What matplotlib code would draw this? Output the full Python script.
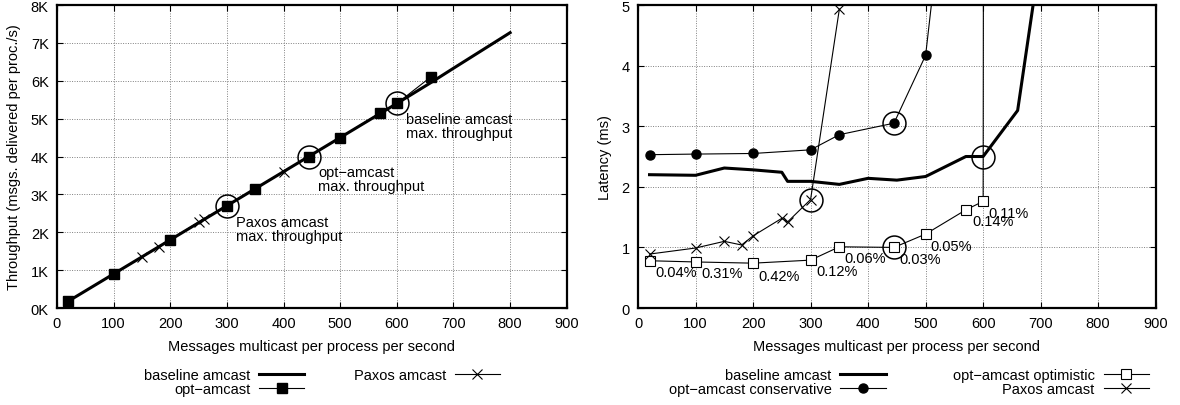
import matplotlib
matplotlib.use('Agg')
import matplotlib.pyplot as plt

plt.rcParams['font.family'] = ['Liberation Sans', 'DejaVu Sans']
plt.rcParams['font.size'] = 10.5

# ---- left panel: throughput (K msgs/s) ----
base_x = [20, 100, 150, 200, 250, 260, 300, 350, 400, 450, 500, 570, 600, 660, 700, 800]
base_thr = [0.18, 0.9, 1.35, 1.8, 2.25, 2.34, 2.7, 3.15, 3.6, 4.05, 4.5, 5.13, 5.4, 5.95, 6.33, 7.27]

opt_x = [20, 100, 200, 300, 350, 445, 500, 570, 600, 660]
opt_thr = [0.18, 0.9, 1.8, 2.7, 3.15, 4.0, 4.5, 5.15, 5.4, 6.1]

paxos_thr_x = [20, 100, 150, 180, 200, 250, 260, 300, 400]
paxos_thr = [0.18, 0.9, 1.35, 1.61, 1.8, 2.27, 2.36, 2.7, 3.6]

max_thr_x = [300, 445, 600]
max_thr_y = [2.7, 4.0, 5.4]
max_thr_text = ['Paxos amcast\nmax. throughput', 'opt\u2212amcast\nmax. throughput',
                'baseline amcast\nmax. throughput']
max_thr_text_pos = [(316, 2.08), (461, 3.4), (617, 4.81)]

# ---- right panel: latency (ms) ----
base_lat_x = [20, 100, 150, 200, 250, 260, 300, 350, 400, 450, 500, 570, 600, 660, 700]
base_lat = [2.2, 2.19, 2.31, 2.28, 2.24, 2.09, 2.09, 2.04, 2.14, 2.11, 2.17, 2.5, 2.5, 3.26, 5.85]

cons_x = [20, 100, 200, 300, 350, 445, 500, 570]
cons_lat = [2.53, 2.54, 2.55, 2.61, 2.86, 3.05, 4.17, 10.0]

optim_x = [20, 100, 200, 300, 350, 445, 500, 570, 600, 660]
optim_lat = [0.78, 0.76, 0.74, 0.79, 1.01, 1.0, 1.22, 1.62, 1.76, 500.0]

paxos_lat_x = [20, 100, 150, 180, 200, 250, 260, 300, 350]
paxos_lat = [0.89, 0.99, 1.1, 1.04, 1.19, 1.48, 1.42, 1.79, 4.93]

max_lat_x = [300, 445, 445, 600]
max_lat_y = [1.79, 3.05, 1.0, 2.5]

pct_labels = ['0.04%', '0.31%', '0.42%', '0.12%', '0.06%', '0.03%', '0.05%', '0.14%', '0.11%']
pct_pos = [(66, 0.59), (146, 0.58), (246, 0.53), (346, 0.61), (395, 0.83),
           (490, 0.81), (544, 1.03), (617, 1.44), (644, 1.57)]

fig = plt.figure(figsize=(11.8, 4.06), dpi=100)
ax1 = fig.add_axes([0.0483, 0.2389, 0.432, 0.7463])
ax2 = fig.add_axes([0.5407, 0.2389, 0.4387, 0.7463])


def style(ax):
    ax.set_xlim(0, 900)
    ax.set_xticks(range(0, 901, 100))
    ax.grid(True, color='0.5', linestyle=(0, (1, 1.5)), linewidth=0.7)
    ax.set_axisbelow(True)
    ax.tick_params(direction='in', length=4, width=0.8, top=True, right=True,
                   labelsize=10.5, pad=6)
    for s in ax.spines.values():
        s.set_linewidth(1.6)
    ax.set_xlabel('Messages multicast per process per second', labelpad=6)


# left
ax1.plot(base_x, base_thr, color='black', lw=2.2, label='baseline amcast')
ax1.plot(opt_x, opt_thr, color='black', lw=0.8, marker='s', ms=7.5,
         label='opt\u2212amcast')
ax1.plot(paxos_thr_x, paxos_thr, color='black', lw=0.8, marker='x', ms=7,
         mew=0.8, label='Paxos amcast')
ax1.plot(max_thr_x, max_thr_y, ls='none', marker='o', ms=16.5, mfc='none',
         mec='black', mew=1.1, label='_nolegend_')
for txt, (tx, ty) in zip(max_thr_text, max_thr_text_pos):
    ax1.text(tx, ty, txt, ha='left', va='center', fontsize=10.5, linespacing=1.0)
style(ax1)
ax1.set_ylim(0, 8)
ax1.set_yticks(range(0, 9))
ax1.set_yticklabels([f'{k}K' for k in range(0, 9)])
ax1.set_ylabel('Throughput (msgs. delivered per proc./s)', labelpad=7)
ax1.legend(loc='upper center', bbox_to_anchor=(322 / 1180, 1 - 362 / 406),
           bbox_transform=fig.transFigure, ncol=2, frameon=False, markerfirst=False,
           borderpad=0, labelspacing=0.0, handlelength=3.1, handletextpad=0.6,
           columnspacing=3.4, fontsize=10.5)

# right
ax2.plot(base_lat_x, base_lat, color='black', lw=2.2, label='baseline amcast')
ax2.plot(cons_x, cons_lat, color='black', lw=0.8, marker='o', ms=6.5,
         label='opt\u2212amcast conservative')
ax2.plot(optim_x, optim_lat, color='black', lw=0.8, marker='s', ms=7.5,
         mfc='white', mew=0.8, label='opt\u2212amcast optimistic')
ax2.plot(paxos_lat_x, paxos_lat, color='black', lw=0.8, marker='x', ms=7,
         mew=0.8, label='Paxos amcast')
ax2.plot(max_lat_x, max_lat_y, ls='none', marker='o', ms=16.5, mfc='none',
         mec='black', mew=1.1, label='_nolegend_')
for txt, (tx, ty) in zip(pct_labels, pct_pos):
    ax2.text(tx, ty, txt, ha='center', va='center', fontsize=10.5)
style(ax2)
ax2.set_ylim(0, 5)
ax2.set_yticks(range(0, 6))
ax2.set_ylabel('Latency (ms)', labelpad=7)
ax2.legend(loc='upper right', bbox_to_anchor=(1156 / 1180, 1 - 362 / 406),
           bbox_transform=fig.transFigure, ncol=2, frameon=False, markerfirst=False,
           borderpad=0, labelspacing=0.0, handlelength=3.1, handletextpad=0.6,
           columnspacing=4.6, fontsize=10.5)

fig.savefig('out.png', dpi=100)
